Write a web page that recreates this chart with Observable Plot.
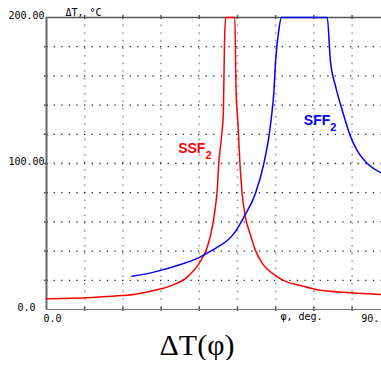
<!DOCTYPE html>
<html><head><meta charset="utf-8">
<script src="https://cdn.jsdelivr.net/npm/d3@7"></script>
<script src="https://cdn.jsdelivr.net/npm/@observablehq/plot@0.6"></script>
<style>
body{margin:0;background:#fff}
#t{width:394px;text-align:center;font:30px/30px "Liberation Serif","Times New Roman",serif;color:#000}
</style>
</head><body><div id="c"></div><div id="t">ΔT(φ)</div>
<script>
// SSF2 curve (red)
const ssfPhi = [0,12,17.2,22.9,28.1,32.9,36.8,39.9,42.1,43.4,44.2,44.7,45.1,45.8,46.3,46.6,46.9,49.3,49.6,50.1,50.6,51.2,52.1,53.4,54.7,56.5,59.9,62,66.5,70.9,79.6,87.7];
const ssfDT  = [7.3,8.3,9.1,10.3,13,16.5,22.2,31.4,42.8,56.5,70,82,100,118,135,183,200,200,152,128,102,80,63,51,40.5,31.6,23.4,20,16.5,13.5,11.5,10.3];
// SFF2 curve (blue)
const sffPhi = [22.4,28.1,35.1,39.5,41.6,45.5,47.4,49.5,51.6,54.7,56.9,58.2,58.8,59.5,60,60.8,61.5,73.5,74.3,75.7,77.4,79.6,81.3,84,87.7];
const sffDT  = [22.7,25.6,30.8,35,38,44,47.4,53.5,63,79.5,100,118,130,148,171,191,200,200,171,152.7,136.7,118.4,109,100,93.5];
// grid & tick labels
const xGrid = [10,20,30,40,50,60,70,80];
const yGrid = [20,40,60,80,100,120,140,160,180];
const yTickValues = [0,100,200];
const yTickLabels = ["0.0","100.00","200.00"];
const xStartLabel = "0.0";
const xEndValue = 90;
const xEndLabel = "90.";
const xAxisLabel = "φ, deg.";
const yAxisLabel = "ΔT, °C";
// curve annotations
const labelNames = ["SSF","SFF"];
const labelPhi = [41.6,74.3];
const labelDT = [107,126.4];
const labelColors = ["#ff0000","#0000ff"];

const ssf = ssfPhi.map((p,i)=>({phi:p, dt:ssfDT[i]}));
const sff = sffPhi.map((p,i)=>({phi:p, dt:sffDT[i]}));
const labels = labelNames.map((n,i)=>({name:n, phi:labelPhi[i], dt:labelDT[i], color:labelColors[i]}));
const mono = "DejaVu Sans Mono, monospace";

const chart = Plot.plot({
  width: 381, height: 330,
  marginLeft: 46, marginRight: 0, marginTop: 17, marginBottom: 21,
  x: {domain: [0, 87.7], axis: null},
  y: {domain: [0, 200], axis: null},
  style: {fontFamily: mono, fontSize: "10px", overflow: "visible"},
  marks: [
    Plot.ruleX(xGrid, {stroke: "#9a9a9a", strokeWidth: 1.6, strokeDasharray: "1.6,6"}),
    Plot.ruleY(yGrid, {stroke: "#222", strokeWidth: 1.3, strokeDasharray: "1.3,6.3"}),
    Plot.ruleX(xGrid, {y1: 200, y2: 200, insetTop: -2, insetBottom: -2, stroke: "#555", strokeWidth: 1.5}),
    Plot.ruleX(xGrid, {y1: 0, y2: 0, insetTop: -2, insetBottom: -2, stroke: "#555", strokeWidth: 1.5}),
    Plot.ruleY(yGrid, {x1: 0, x2: 0, insetLeft: -2, insetRight: -2, stroke: "#555", strokeWidth: 1.5}),
    Plot.ruleY([200], {stroke: "#555", strokeWidth: 1.5}),
    Plot.ruleY([0], {stroke: "#777", strokeWidth: 1.2}),
    Plot.ruleX([0], {stroke: "#666", strokeWidth: 2}),
    Plot.line(ssf, {x: "phi", y: "dt", stroke: "#ff0000", strokeWidth: 1.5, curve: "monotone-x"}),
    Plot.line(sff, {x: "phi", y: "dt", stroke: "#0000ff", strokeWidth: 1.5, curve: "monotone-x"}),
    Plot.text(yTickValues, {x: 0, y: d => d, text: (d,i) => yTickLabels[i], dx: -20, dy: -2, textAnchor: "middle", fill: "#000"}),
    Plot.text([xStartLabel], {x: 0, y: 0, text: d => d, dx: -3, dy: 9, textAnchor: "start", fill: "#000"}),
    Plot.text([xEndLabel], {x: xEndValue, y: 0, text: d => d, dx: -29, dy: 9, textAnchor: "start", fill: "#000"}),
    Plot.text([xAxisLabel], {frameAnchor: "bottom-right", text: d => d, dx: -101, dy: 10, textAnchor: "start", fill: "#000"}),
    Plot.text([yAxisLabel], {frameAnchor: "top-left", text: d => d, dx: 19, dy: -9, textAnchor: "start", fill: "#000"}),
    Plot.text(labels, {x: "phi", y: "dt", text: "name", fill: "color", textAnchor: "end", fontFamily: "Liberation Sans, Arial, sans-serif", fontWeight: "bold", fontSize: 14, lineAnchor: "bottom"}),
    Plot.text(labels, {x: "phi", y: "dt", text: () => "2", fill: "color", textAnchor: "start", fontFamily: "Liberation Sans, Arial, sans-serif", fontWeight: "bold", fontSize: 11, lineAnchor: "bottom", dy: 6})
  ]
});
document.getElementById("c").appendChild(chart);
</script>
</body></html>
